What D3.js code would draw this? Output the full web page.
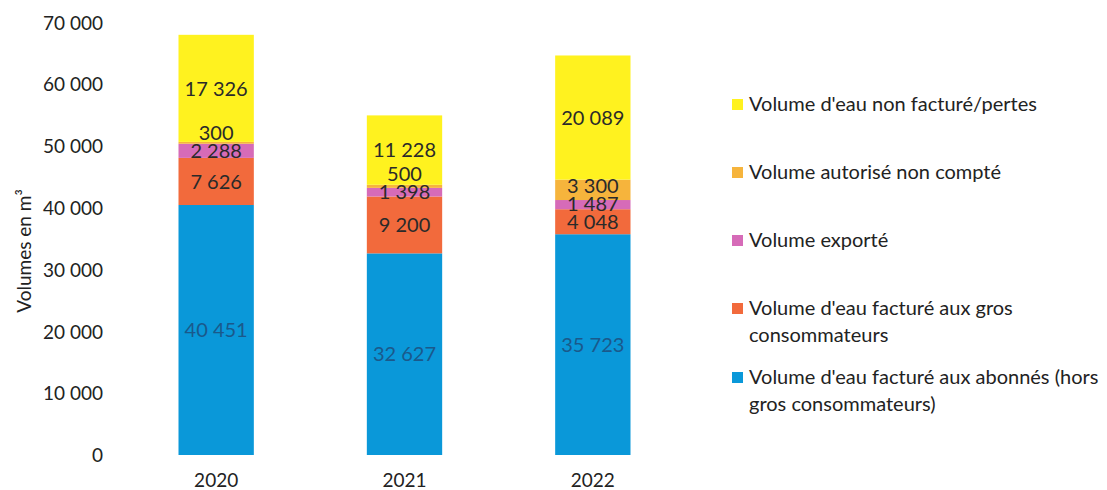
<!DOCTYPE html>
<html>
<head>
<meta charset="utf-8">
<script src="https://cdn.jsdelivr.net/npm/d3@7"></script>
<style>
  body { margin: 0; background: #fff; }
  text { font-family: Lato, "Open Sans", sans-serif; }
</style>
</head>
<body>
<div id="chart"></div>
<script>
const years = ["2020", "2021", "2022"];
const seriesNames = [
  "Volume d'eau facturé aux abonnés (hors gros consommateurs)",
  "Volume d'eau facturé aux gros consommateurs",
  "Volume exporté",
  "Volume autorisé non compté",
  "Volume d'eau non facturé/pertes"
];
const abonnes = [40451, 32627, 35723];
const grosConso = [7626, 9200, 4048];
const exporte = [2288, 1398, 1487];
const autorise = [300, 500, 3300];
const pertes = [17326, 11228, 20089];
const yTicks = [0, 10000, 20000, 30000, 40000, 50000, 60000, 70000];

const colors = ["#0a98d9", "#f26a3c", "#d66bb8", "#f6b43c", "#fff21f"];
const legendLines = [
  ["Volume d'eau non facturé/pertes"],
  ["Volume autorisé non compté"],
  ["Volume exporté"],
  ["Volume d'eau facturé aux gros", "consommateurs"],
  ["Volume d'eau facturé aux abonnés (hors", "gros consommateurs)"]
];

const W = 1107, H = 490;
const svg = d3.select("#chart").append("svg")
  .attr("width", W).attr("height", H);

const x = d3.scaleBand()
  .domain(years)
  .range([122, 687])
  .paddingInner(0.6)
  .paddingOuter(0.3);

const y = d3.scaleLinear()
  .domain([0, 70000])
  .range([455, 22.4]);

const fmt = v => d3.format(",")(v).replace(/,/g, " ");

// stacked data
const table = years.map((yr, i) => ({
  year: yr,
  s0: abonnes[i], s1: grosConso[i], s2: exporte[i], s3: autorise[i], s4: pertes[i]
}));
const stack = d3.stack().keys(["s0", "s1", "s2", "s3", "s4"])(table);

// y ticks
svg.append("g")
  .selectAll("text")
  .data(yTicks)
  .join("text")
  .attr("x", 103)
  .attr("y", d => y(d))
  .attr("dy", "0.38em")
  .attr("text-anchor", "end")
  .style("font-size", "19px")
  .style("fill", "#222")
  .text(d => fmt(d));

// y title
svg.append("text")
  .attr("transform", "translate(24,251) rotate(-90)")
  .attr("text-anchor", "middle")
  .attr("dy", "0.35em")
  .style("font-size", "19px")
  .style("fill", "#222")
  .text("Volumes en m³");

// bars
svg.append("g")
  .selectAll("g")
  .data(stack)
  .join("g")
  .attr("fill", (d, i) => colors[i])
  .selectAll("rect")
  .data(d => d)
  .join("rect")
  .attr("x", d => x(d.data.year))
  .attr("width", x.bandwidth())
  .attr("y", d => y(d[1]))
  .attr("height", d => y(d[0]) - y(d[1]));

// data labels, nudged upward when they collide
years.forEach((yr, j) => {
  let prev = null;
  stack.forEach((layer, i) => {
    const d = layer[j];
    let cy = (y(d[0]) + y(d[1])) / 2;
    if (prev !== null && prev - cy < 18) cy = prev - 18;
    prev = cy;
    svg.append("text")
      .attr("x", x(yr) + x.bandwidth() / 2)
      .attr("y", cy)
      .attr("dy", "0.36em")
      .attr("text-anchor", "middle")
      .style("font-size", "20px")
      .style("fill", i === 0 ? "#1f4a78" : "#2a2a2a")
      .style("opacity", i === 0 ? 0.8 : 1)
      .text(fmt(d.data["s" + i]));
  });
});

// x labels
svg.append("g")
  .selectAll("text")
  .data(years)
  .join("text")
  .attr("x", d => x(d) + x.bandwidth() / 2)
  .attr("y", 480)
  .attr("dy", "0.36em")
  .attr("text-anchor", "middle")
  .style("font-size", "19px")
  .style("fill", "#222")
  .text(d => d);

// legend
const legendY = [104, 172, 240, 308, 377];
const legend = svg.append("g");
legendLines.forEach((lines, k) => {
  const ci = 4 - k;
  legend.append("rect")
    .attr("x", 732)
    .attr("y", legendY[k] - 5)
    .attr("width", 11)
    .attr("height", 11)
    .attr("fill", colors[ci]);
  lines.forEach((ln, m) => {
    legend.append("text")
      .attr("x", 749)
      .attr("y", legendY[k] + m * 27)
      .attr("dy", "0.36em")
      .style("font-size", "20px")
      .style("fill", "#222")
      .text(ln);
  });
});
</script>
</body>
</html>
